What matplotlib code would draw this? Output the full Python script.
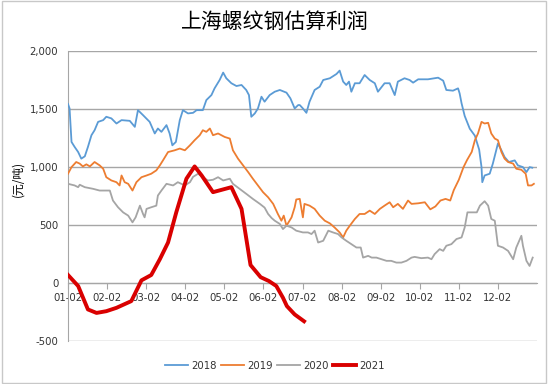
import matplotlib
matplotlib.use("Agg")
import matplotlib.pyplot as plt
from matplotlib.patches import Rectangle

plt.rcParams['font.family'] = ['DejaVu Sans', 'Noto Sans CJK SC']

title = "上海螺纹钢估算利润"
ylabel = "(元/吨)"
month_labels = ["01-02", "02-02", "03-02", "04-02", "05-02", "06-02",
                "07-02", "08-02", "09-02", "10-02", "11-02", "12-02"]
y_ticks = [-500, 0, 500, 1000, 1500, 2000]
y_tick_labels = ["-500", "0", "500", "1,000", "1,500", "2,000"]
series_names = ["2018", "2019", "2020", "2021"]

# x positions in month units (0 = 01-02)
x2018 = [0.00, 0.04, 0.09, 0.17, 0.26, 0.34, 0.43, 0.51, 0.60, 0.68, 0.77, 0.90, 0.98, 1.11, 1.24,
         1.37, 1.58, 1.71, 1.79, 1.92, 2.09, 2.22, 2.30, 2.39, 2.52, 2.60, 2.67, 2.76, 2.86, 2.94,
         3.07, 3.20, 3.29, 3.45, 3.54, 3.67, 3.75, 3.88, 3.97, 4.05, 4.18, 4.31, 4.44, 4.56, 4.63,
         4.69, 4.78, 4.86, 4.95, 5.03, 5.16, 5.29, 5.42, 5.59, 5.69, 5.80, 5.89, 5.93, 6.01, 6.10,
         6.18, 6.31, 6.44, 6.53, 6.70, 6.87, 6.95, 7.04, 7.12, 7.19, 7.25, 7.34, 7.46, 7.59, 7.72,
         7.85, 7.93, 8.10, 8.23, 8.36, 8.44, 8.61, 8.74, 8.83, 8.96, 9.21, 9.47, 9.60, 9.68, 9.85,
         9.98, 10.02, 10.07, 10.15, 10.28, 10.41, 10.52, 10.58, 10.60, 10.66, 10.79, 10.87, 11.00,
         11.09, 11.17, 11.28, 11.43, 11.51, 11.64, 11.73, 11.81, 11.88]
y2018 = [1543, 1505, 1216, 1173, 1129, 1072, 1092, 1173, 1274, 1317, 1389, 1404, 1433, 1419, 1375,
         1404, 1398, 1346, 1490, 1447, 1389, 1289, 1332, 1303, 1361, 1289, 1187, 1216, 1404, 1490,
         1462, 1467, 1490, 1490, 1577, 1620, 1678, 1750, 1814, 1765, 1722, 1698, 1707, 1664, 1620,
         1433, 1462, 1505, 1606, 1563, 1620, 1649, 1664, 1641, 1592, 1505, 1534, 1534, 1505, 1467,
         1563, 1664, 1692, 1750, 1765, 1802, 1831, 1736, 1707, 1736, 1649, 1722, 1722, 1793, 1750,
         1722, 1649, 1722, 1722, 1620, 1736, 1765, 1750, 1727, 1756, 1756, 1770, 1744, 1664, 1658,
         1678, 1635, 1549, 1440, 1330, 1270, 1150, 1000, 869, 927, 942, 1029, 1202,
         1144, 1086, 1043, 1057, 1014, 999, 956, 999, 994]

x2019 = [0.00, 0.09, 0.21, 0.30, 0.38, 0.47, 0.56, 0.68, 0.81, 0.90, 0.98, 1.11, 1.24, 1.32, 1.37,
         1.45, 1.54, 1.65, 1.75, 1.88, 2.01, 2.13, 2.26, 2.35, 2.43, 2.56, 2.73, 2.86, 2.99, 3.12,
         3.24, 3.37, 3.45, 3.54, 3.63, 3.71, 3.84, 4.01, 4.14, 4.22, 4.35, 4.48, 4.61, 4.73, 4.86,
         4.99, 5.12, 5.25, 5.37, 5.46, 5.52, 5.59, 5.72, 5.80, 5.84, 5.93, 6.01, 6.05, 6.18, 6.31,
         6.44, 6.57, 6.70, 6.82, 6.95, 7.04, 7.12, 7.21, 7.34, 7.46, 7.59, 7.72, 7.85, 7.98, 8.10,
         8.23, 8.32, 8.44, 8.57, 8.70, 8.79, 8.96, 9.13, 9.27, 9.40, 9.53, 9.66, 9.78, 9.87, 10.00,
         10.12, 10.21, 10.33, 10.41, 10.49, 10.58, 10.66, 10.75, 10.83, 10.92, 11.00, 11.09, 11.17,
         11.26, 11.39, 11.47, 11.60, 11.71, 11.77, 11.86, 11.92]
y2019 = [942, 999, 1043, 1029, 1005, 1023, 1005, 1043, 1014, 985, 912, 884, 869, 841, 927,
         869, 855, 797, 869, 912, 927, 942, 971, 1014, 1057, 1129, 1144, 1159, 1144, 1187,
         1231, 1274, 1317, 1303, 1332, 1274, 1289, 1259, 1245, 1144, 1072, 1014, 956, 899, 841,
         783, 739, 682, 595, 537, 581, 494, 566, 653, 720, 725, 566, 682, 667, 639,
         581, 537, 514, 479, 436, 393, 451, 494, 552, 595, 595, 624, 595, 639, 667,
         696, 653, 682, 639, 711, 682, 687, 696, 635, 660, 711, 725, 711, 800, 890,
         999, 1060, 1130, 1230, 1289, 1389, 1375, 1381, 1289, 1245, 1231, 1129, 1072,
         1043, 1029, 985, 976, 942, 841, 841, 855]

x2020 = [0.00, 0.17, 0.26, 0.30, 0.43, 0.64, 0.81, 1.07, 1.15, 1.28, 1.41, 1.54, 1.65, 1.73, 1.84,
         1.92, 1.96, 2.01, 2.13, 2.26, 2.30, 2.39, 2.52, 2.69, 2.81, 2.99, 3.12, 3.20, 3.33, 3.45,
         3.58, 3.71, 3.84, 3.97, 4.14, 4.22, 4.39, 4.56, 4.73, 4.91, 5.03, 5.12, 5.21, 5.29, 5.42,
         5.50, 5.59, 5.72, 5.84, 6.01, 6.14, 6.23, 6.31, 6.40, 6.53, 6.66, 6.78, 6.91, 7.00, 7.12,
         7.25, 7.38, 7.49, 7.55, 7.68, 7.77, 7.89, 8.02, 8.15, 8.27, 8.40, 8.53, 8.66, 8.79, 8.87,
         9.04, 9.21, 9.30, 9.38, 9.51, 9.60, 9.68, 9.81, 9.94, 10.07, 10.15, 10.22, 10.33, 10.46,
         10.54, 10.66, 10.75, 10.83, 10.92, 11.00, 11.13, 11.26, 11.39, 11.47, 11.60, 11.64, 11.73,
         11.81, 11.89]
y2020 = [855, 841, 826, 847, 826, 812, 797, 797, 711, 653, 609, 581, 523, 566, 667,
         595, 566, 639, 653, 667, 754, 797, 855, 841, 869, 841, 869, 915, 942, 912,
         884, 890, 912, 884, 899, 855, 812, 769, 725, 682, 650, 595, 560, 537, 509,
         465, 494, 479, 451, 436, 436, 422, 451, 349, 364, 451, 436, 422, 393, 364,
         335, 306, 306, 219, 234, 219, 219, 205, 191, 191, 176, 176, 191, 219, 225,
         214, 219, 205, 249, 292, 277, 321, 335, 379, 393, 479, 609, 609, 609,
         667, 705, 667, 552, 537, 321, 306, 277, 205, 306, 407, 321, 191,
         147, 219]

x2021 = [0.00, 0.26, 0.51, 0.73, 0.98, 1.24, 1.62, 1.88, 2.13, 2.35, 2.56, 2.77, 3.03, 3.24, 3.42,
         3.71, 4.18, 4.44, 4.67, 4.93, 5.14, 5.33, 5.50, 5.60, 5.80, 6.04]
y2021 = [69, -26, -228, -258, -243, -214, -156, 23, 69, 205, 349, 609, 899, 1005, 927,
         783, 826, 639, 155, 50, 17, -26, -127, -199, -271, -330]

colors = ["#5B9BD5", "#ED7D31", "#A5A5A5", "#D90000"]
widths = [1.3, 1.3, 1.3, 2.8]

fig = plt.figure(figsize=(5.5, 3.84), dpi=100)
fig.patch.set_facecolor("white")
ax = fig.add_axes([68 / 550, 1 - 341 / 384, (537 - 68) / 550, (341 - 51) / 384])

xs = [x2018, x2019, x2020, x2021]
ys = [y2018, y2019, y2020, y2021]
for x, y, c, w, n in zip(xs, ys, colors, widths, series_names):
    ax.plot(x, y, color=c, lw=w, label=n, solid_joinstyle="round", zorder=3)

ax.set_xlim(0, 12)
ax.set_ylim(-500, 2000)
ax.set_yticks(y_ticks)
ax.set_yticklabels(y_tick_labels)
ax.set_xticks(range(len(month_labels)))
ax.set_xticklabels(month_labels)
ax.yaxis.grid(True, color="#A6A6A6", lw=1.0, zorder=1)
ax.set_axisbelow(True)

for s in ["top", "right"]:
    ax.spines[s].set_visible(False)
ax.spines["bottom"].set_position(("data", 0))
ax.spines["bottom"].set_color("#A6A6A6")
ax.spines["left"].set_color("#A6A6A6")
ax.tick_params(axis="x", direction="out", length=4, color="#A6A6A6", labelsize=7.3,
               labelcolor="#333333", pad=3)
ax.tick_params(axis="y", length=0, labelsize=7.3, labelcolor="#333333", pad=7)

ax.set_ylabel(ylabel, family=["Noto Sans CJK SC", "DejaVu Sans"], fontsize=8.5)
ax.yaxis.set_label_coords((24 - 68) / 469, (340 - 178) / 290)
fig.text(0.5, 1 - 22 / 384, title, ha="center", va="center", fontsize=15,
         family=["Noto Sans CJK SC", "DejaVu Sans"])

leg = fig.legend(loc="center", bbox_to_anchor=(0.5, 1 - 366 / 384), ncol=4, frameon=False,
                 fontsize=7.3, handlelength=2.3, handletextpad=0.35, columnspacing=0.35)
for t in leg.get_texts():
    t.set_color("#333333")

fig.patches.append(Rectangle((0.003, 0.003), 0.99, 0.994, transform=fig.transFigure,
                             fill=False, edgecolor="#C8C8C8", lw=1))

fig.savefig("out.png", dpi=100)
